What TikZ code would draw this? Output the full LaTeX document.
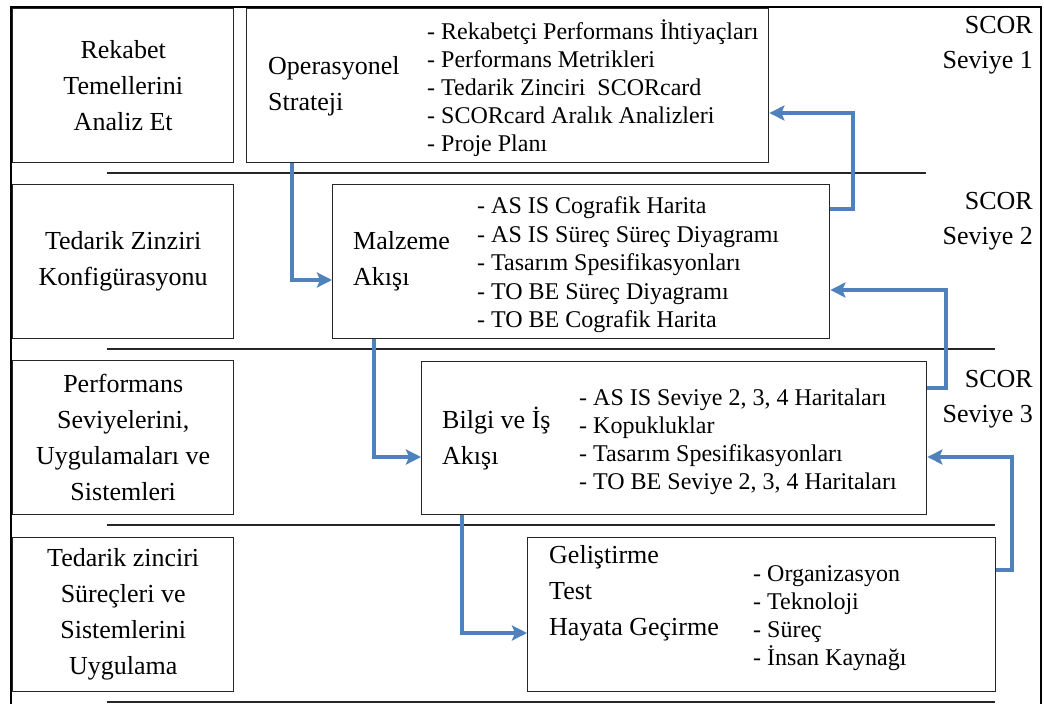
\documentclass[tikz,border=0pt]{standalone}
\usepackage{fontspec}
\setmainfont{Liberation Serif}
\usetikzlibrary{arrows.meta}
\definecolor{flowblue}{HTML}{4F81BD}
\begin{document}
\begin{tikzpicture}[x=1pt,y=-1pt,
  box/.style={draw=black!85, line width=1.4pt, inner sep=0pt, anchor=north west},
  sep/.style={draw=black!85, line width=1.4pt},
  frame/.style={draw=black, line width=2.6pt},
  flow/.style={draw=flowblue, line width=4pt, line join=miter,
    -{Stealth[length=15pt,width=15pt,inset=3pt]}},
  bigtext/.style={font=\fontsize{26}{36}\selectfont, inner sep=0pt},
  listtext/.style={font=\fontsize{24}{28}\selectfont, inner sep=0pt, align=left, anchor=west},
  level/.style={font=\fontsize{26}{35}\selectfont, inner sep=0pt, align=right, anchor=east},
]
\fill[white] (0,0) rectangle (1044,704);
\useasboundingbox (0,0) rectangle (1044,704);

% outer frame
\draw[frame] (11,704) -- (11,7) -- (1041,7) -- (1041,704);

% left column: phase boxes
\node[box, bigtext, align=center, minimum width=221pt, minimum height=154pt] (q1) at (12,8)
  {Rekabet\\Temellerini\\Analiz Et};
\node[box, bigtext, align=center, minimum width=221pt, minimum height=154pt] (q2) at (12,184)
  {Tedarik Zinziri\\Konfigürasyonu};
\node[box, bigtext, align=center, minimum width=221pt, minimum height=154pt] (q3) at (12,360)
  {Performans\\Seviyelerini,\\Uygulamaları ve\\Sistemleri};
\node[box, bigtext, align=center, minimum width=221pt, minimum height=154pt] (q4) at (12,537)
  {Tedarik zinciri\\Süreçleri ve\\Sistemlerini\\Uygulama};

% row separators
\draw[sep] (107,173) -- (926,173);
\draw[sep] (107,349) -- (995,349);
\draw[sep] (107,525) -- (995,525);
\draw[sep] (107,702) -- (995,702);

% staircase of work boxes
\node[box, minimum width=522pt, minimum height=154pt] (ops) at (246,8) {};
\node[box, minimum width=497pt, minimum height=154pt] (mat) at (332,184) {};
\node[box, minimum width=505pt, minimum height=153pt] (inf) at (421,361) {};
\node[box, minimum width=468pt, minimum height=154pt] (dev) at (527,537) {};

% box contents
\node[bigtext, align=left, anchor=west] (opsT) at (268,86) {Operasyonel\\Strateji};
\node[listtext] (opsL) at (427,88) {- Rekabetçi Performans İhtiyaçları\\- Performans Metrikleri\\- Tedarik Zinciri\ \ SCORcard\\- SCORcard Aralık Analizleri\\- Proje Planı};

\node[bigtext, align=left, anchor=west] (matT) at (353,261.5) {Malzeme\\Akışı};
\node[listtext, font=\fontsize{24}{28.5}\selectfont] (matL) at (477,265) {- AS IS Cografik Harita\\- AS IS Süreç Süreç Diyagramı\\- Tasarım Spesifikasyonları\\- TO BE Süreç Diyagramı\\- TO BE Cografik Harita};

\node[bigtext, align=left, anchor=west] (infT) at (442,438.5) {Bilgi ve İş\\Akışı};
\node[listtext] (infL) at (579,442) {- AS IS Seviye 2, 3, 4 Haritaları\\- Kopukluklar\\- Tasarım Spesifikasyonları\\- TO BE Seviye 2, 3, 4 Haritaları};

\node[bigtext, align=left, anchor=west] (devT) at (549,593) {Geliştirme\\Test\\Hayata Geçirme};
\node[listtext] (devL) at (753,618) {- Organizasyon\\- Teknoloji\\- Süreç\\- İnsan Kaynağı};

% SCOR level labels
\node[level] (lv1) at (1033,45.5) {SCOR\\Seviye 1};
\node[level] (lv2) at (1033,221.5) {SCOR\\Seviye 2};
\node[level] (lv3) at (1033,399) {SCOR\\Seviye 3};

% downward flow
\draw[flow] (ops.south -| 292,0) |- (mat.west |- 0,280);
\draw[flow] (mat.south -| 374,0) |- (inf.west |- 0,457);
\draw[flow] (inf.south -| 462,0) |- (dev.west |- 0,633);

% feedback loops
\draw[flow] (mat.east |- 0,209) -| (853,113) -- (ops.east |- 0,113);
\draw[flow] (inf.east |- 0,388) -| (946,290) -- (mat.east |- 0,290);
\draw[flow] (dev.east |- 0,570) -| (1012,457) -- (inf.east |- 0,457);
\end{tikzpicture}
\end{document}
